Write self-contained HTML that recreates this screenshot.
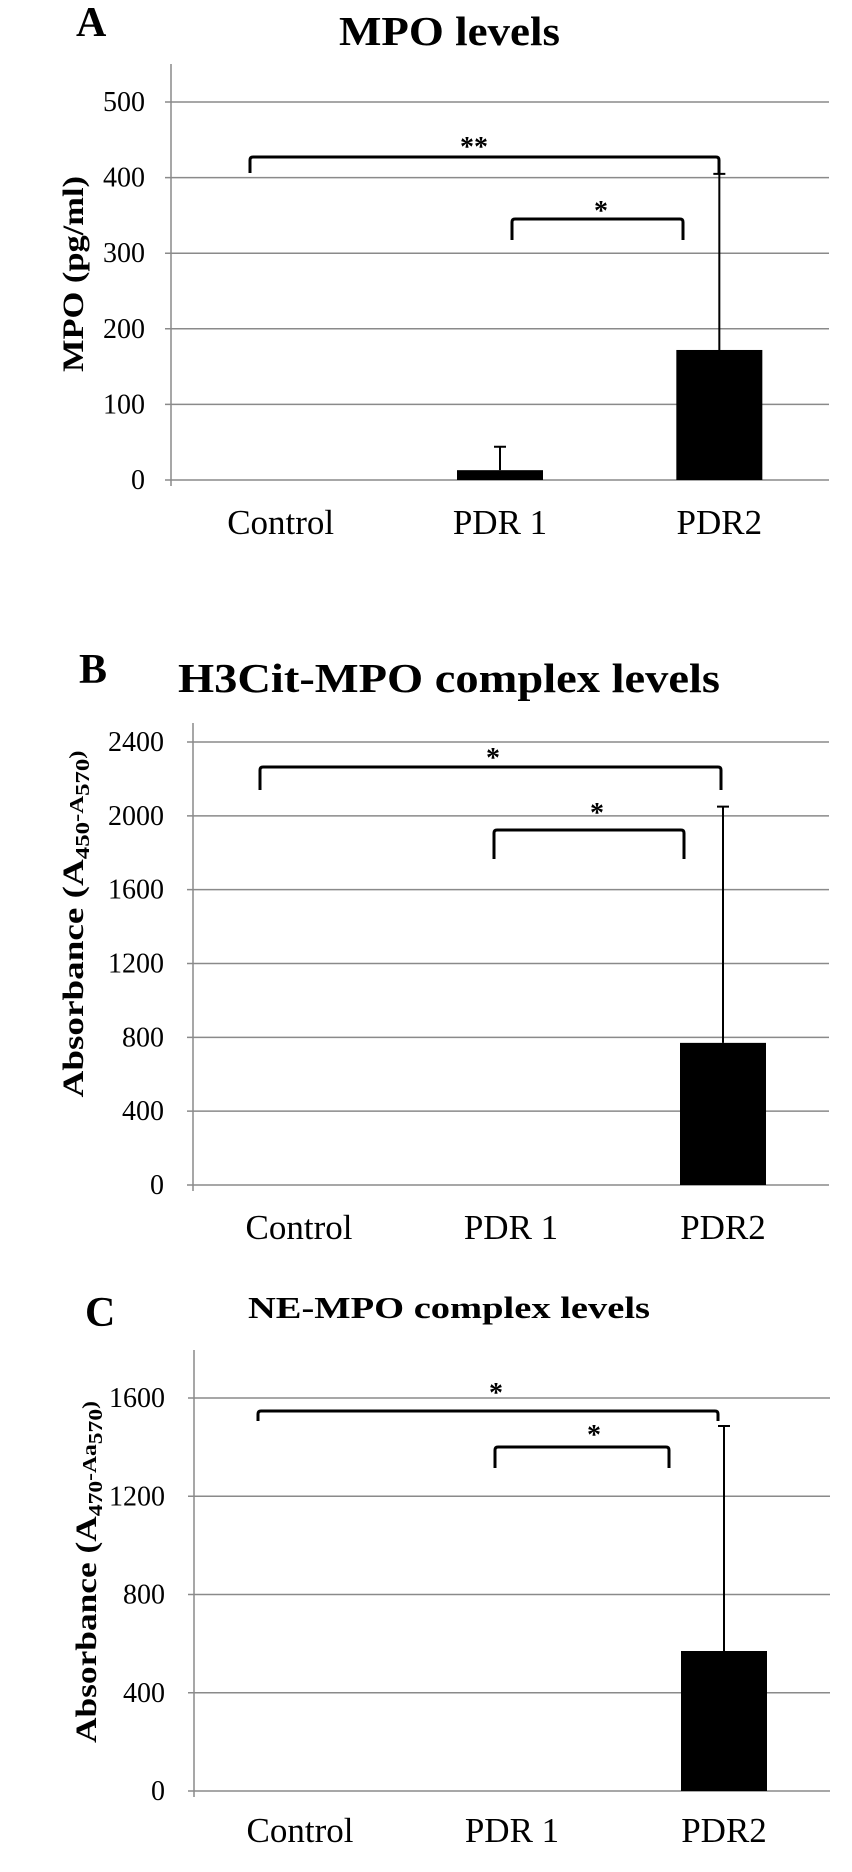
<!DOCTYPE html>
<html><head><meta charset="utf-8"><style>
html,body{margin:0;padding:0;background:#fff;}
svg{display:block;font-family:"Liberation Serif",serif;}
</style></head><body>
<svg id="fig" width="852" height="1872" viewBox="0 0 852 1872"></svg>
<script>
const categories = ["Control", "PDR 1", "PDR2"];
const mpoValues = [0, 13, 172];
const mpoErrors = [0, 31, 233];
const mpoTicks = [0, 100, 200, 300, 400, 500];
const h3Values = [0, 0, 770];
const h3Errors = [0, 0, 1280];
const h3Ticks = [0, 400, 800, 1200, 1600, 2000, 2400];
const neValues = [0, 0, 570];
const neErrors = [0, 0, 916];
const neTicks = [0, 400, 800, 1200, 1600];

const NS = "http://www.w3.org/2000/svg";
const svg = document.getElementById("fig");
function mk(tag, attrs, parent, text) {
  const e = document.createElementNS(NS, tag);
  for (const k in attrs) e.setAttribute(k, attrs[k]);
  if (text !== undefined) e.textContent = text;
  (parent || svg).appendChild(e);
  return e;
}

function drawPanel(cfg) {
  const g = mk("g", {});
  
  
  const y = v => cfg.y0 - (v - cfg.tickMin) / (cfg.tickMax - cfg.tickMin) * (cfg.y0 - cfg.yTop);
  const band = (cfg.xr - cfg.xl) / categories.length;
  const xc = i => cfg.xl + band * (i + 0.5);

  // letter + title
  const L = mk("text", {x: cfg.letterX, y: cfg.letterY, "font-size": 42, "font-weight": "bold"}, g, cfg.letter);
  
  
  const T = mk("text", {x: cfg.titleX, y: cfg.titleY, "font-size": cfg.titleSize, "font-weight": "bold", textLength: cfg.titleW, lengthAdjust: "spacingAndGlyphs"}, g, cfg.title);
  
  

  // gridlines + ticks
  cfg.ticks.forEach(t => {
    const ln = mk("line", {x1: cfg.xl - 6, x2: cfg.xr, y1: y(t), y2: y(t), stroke: "#8a8a8a", "stroke-width": 1.5}, g);
    
    
    const tx = mk("text", {x: cfg.tickRight, y: y(t) + 9, "font-size": 28, "text-anchor": "end"}, g, String(t));
    
    
  });
  const ax = mk("line", {x1: cfg.xl, x2: cfg.xl, y1: cfg.axisTop, y2: cfg.y0 + 6, stroke: "#8a8a8a", "stroke-width": 1.5}, g);
  
  

  // y title
  const yt = mk("text", {transform: `translate(${cfg.ytX},${cfg.ytY}) rotate(-90)`, "font-size": 30, "font-weight": "bold", "text-anchor": "middle", textLength: cfg.ytW, lengthAdjust: "spacingAndGlyphs"}, g);
  
  
  cfg.ytParts.forEach(p => {
    const ts = mk("tspan", p[1] ? {"font-size": 20, dy: p[1]} : {}, yt, p[0]);
  });

  // bars and error bars
  categories.forEach((c, i) => {
    const v = cfg.values[i];
    if (v > 0) {
      const b = mk("rect", {x: xc(i) - 43, y: y(v), width: 86, height: cfg.y0 - y(v), fill: "#000"}, g);
      
      
    }
    const e = cfg.errors[i];
    if (e > 0) {
      const top = y(v + e);
      const el = mk("path", {d: `M${xc(i)},${y(v)}V${top}M${xc(i) - 6},${top}H${xc(i) + 6}`, stroke: "#000", "stroke-width": 2, fill: "none"}, g);
      
      
    }
    const cl = mk("text", {x: xc(i), y: cfg.catY, "font-size": 35, "text-anchor": "middle"}, g, c);
    
    
  });

  // significance brackets
  cfg.brackets.forEach(br => {
    const p = mk("path", {d: `M${br[0]},${br[3]}V${br[2] + 3}Q${br[0]},${br[2]} ${br[0] + 3},${br[2]}H${br[1] - 3}Q${br[1]},${br[2]} ${br[1]},${br[2] + 3}V${br[3]}`, stroke: "#000", "stroke-width": 3, fill: "none"}, g);
    
    
    const s = mk("text", {x: br[4], y: br[5] + 14, "font-size": 28, "font-weight": "bold", "text-anchor": "middle"}, g, br[6]);
    
    
  });
}

drawPanel({name: "panel-a-mpo", letter: "A", letterX: 76, letterY: 36, title: "MPO levels", titleX: 339, titleY: 45, titleSize: 41, titleW: 221,
  xl: 171, xr: 829, y0: 480, yTop: 102, tickMin: 0, tickMax: 500, axisTop: 64, ticks: mpoTicks, tickRight: 145,
  values: mpoValues, errors: mpoErrors, catY: 534,
  ytX: 83, ytY: 274, ytW: 196, ytParts: [["MPO (pg/ml)"]],
  brackets: [[250, 719, 157, 173, 474, 142, "**"], [512, 683, 219, 240, 601, 206, "*"]]});

drawPanel({name: "panel-b-h3cit-mpo", letter: "B", letterX: 79, letterY: 683, title: "H3Cit-MPO complex levels", titleX: 178, titleY: 692, titleSize: 41, titleW: 542,
  xl: 193, xr: 829, y0: 1185, yTop: 742, tickMin: 0, tickMax: 2400, axisTop: 723, ticks: h3Ticks, tickRight: 164,
  values: h3Values, errors: h3Errors, catY: 1239,
  ytX: 83, ytY: 924, ytW: 347, ytParts: [["Absorbance (A"], ["450", 6], ["-A", -6], ["570", 6], [")", -6]],
  brackets: [[260, 721, 767, 790, 493, 753, "*"], [494, 684, 830, 859, 597, 808, "*"]]});

drawPanel({name: "panel-c-ne-mpo", letter: "C", letterX: 85, letterY: 1326, title: "NE-MPO complex levels", titleX: 248, titleY: 1318, titleSize: 31, titleW: 402,
  xl: 194, xr: 830, y0: 1791, yTop: 1398, tickMin: 0, tickMax: 1600, axisTop: 1350, ticks: neTicks, tickRight: 165,
  values: neValues, errors: neErrors, catY: 1842,
  ytX: 96, ytY: 1572, ytW: 342, ytParts: [["Absorbance (A"], ["470", 6], ["-Aa", -6], ["570", 6], [")", -6]],
  brackets: [[258, 718, 1411, 1421, 496, 1388, "*"], [495, 669, 1447, 1468, 594, 1430, "*"]]});
</script>
</body></html>
